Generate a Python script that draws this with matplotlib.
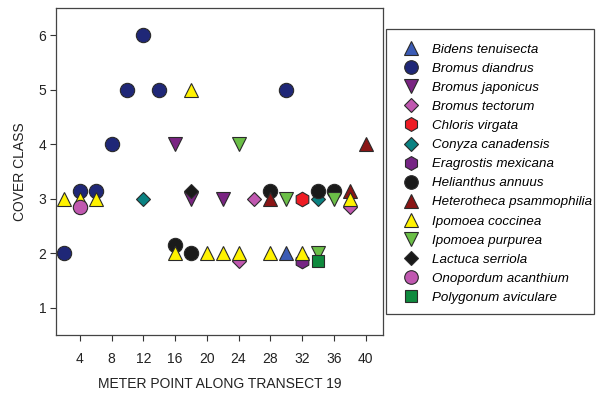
import matplotlib
matplotlib.use("Agg")
import matplotlib.pyplot as plt
from matplotlib.lines import Line2D
from matplotlib.patches import Rectangle

plt.rcParams['font.family'] = ['Liberation Sans', 'DejaVu Sans']

species = ["Bidens tenuisecta", "Bromus diandrus", "Bromus japonicus", "Bromus tectorum",
           "Chloris virgata", "Conyza canadensis", "Eragrostis mexicana", "Helianthus annuus",
           "Heterotheca psammophilia", "Ipomoea coccinea", "Ipomoea purpurea",
           "Lactuca serriola", "Onopordum acanthium", "Polygonum aviculare"]

bidens_x = [30]
bidens_y = [2]
diandrus_x = [2, 4, 6, 8, 10, 12, 14, 30]
diandrus_y = [2, 3.15, 3.15, 4, 5, 6, 5, 5]
japonicus_x = [16, 18, 22]
japonicus_y = [4, 3, 3]
tectorum_x = [24, 26, 38]
tectorum_y = [1.85, 3, 2.85]
chloris_x = [32]
chloris_y = [3]
conyza_x = [12, 34]
conyza_y = [3, 3]
eragrostis_x = [32]
eragrostis_y = [1.85]
helianthus_x = [16, 18, 28, 34, 36]
helianthus_y = [2.15, 2, 3.15, 3.15, 3.15]
heterotheca_x = [28, 38, 40]
heterotheca_y = [3, 3.15, 4]
coccinea_x = [2, 4, 6, 16, 18, 20, 22, 24, 28, 32, 38]
coccinea_y = [3, 3, 3, 2, 5, 2, 2, 2, 2, 2, 3]
purpurea_x = [24, 30, 36, 34]
purpurea_y = [4, 3, 3, 2]
lactuca_x = [18]
lactuca_y = [3.15]
onopordum_x = [4]
onopordum_y = [2.85]
polygonum_x = [34]
polygonum_y = [1.85]

xs = [bidens_x, diandrus_x, japonicus_x, tectorum_x, chloris_x, conyza_x, eragrostis_x,
      helianthus_x, heterotheca_x, coccinea_x, purpurea_x, lactuca_x, onopordum_x, polygonum_x]
ys = [bidens_y, diandrus_y, japonicus_y, tectorum_y, chloris_y, conyza_y, eragrostis_y,
      helianthus_y, heterotheca_y, coccinea_y, purpurea_y, lactuca_y, onopordum_y, polygonum_y]

markers = ['^', 'o', 'v', 'D', 'h', 'D', 'h', 'o', '^', '^', 'v', 'D', 'o', 's']
colors = ['#3b5bb5', '#1f2777', '#7a2482', '#c058b0', '#ee1c24', '#0a8282', '#762584',
          '#1a1a1a', '#8a1515', '#fff200', '#6bbf47', '#1a1a1a', '#c058b0', '#0f8a3e']
sizes = {'^': 10.5, 'o': 10.3, 'v': 10.5, 'D': 7.2, 'h': 10.5, 's': 8.7}

fig = plt.figure(figsize=(5.97, 3.98), dpi=100)
ax = fig.add_axes([56/597, 1-335/398, (383-56)/597, (335-8)/398])

handles = []
for name, x, y, m, c in zip(species, xs, ys, markers, colors):
    ax.plot(x, y, linestyle='none', marker=m, markersize=sizes[m], markerfacecolor=c,
            markeredgecolor='#2a2a2a', markeredgewidth=0.8, clip_on=False)
    handles.append(Line2D([], [], linestyle='none', marker=m, markersize=sizes[m] * 0.95,
                          markerfacecolor=c, markeredgecolor='#2a2a2a', markeredgewidth=0.8,
                          label=name))

ax.set_xlim(1, 42.2)
ax.set_ylim(0.5, 6.5)
ax.set_xticks([4, 8, 12, 16, 20, 24, 28, 32, 36, 40])
ax.set_yticks([1, 2, 3, 4, 5, 6])
ax.tick_params(direction='out', length=4, width=0.8, colors='#333333', labelsize=10,
               labelcolor='#222222', pad=8)
ax.tick_params(axis='y', pad=3)
for s in ax.spines.values():
    s.set_color('#444444')
    s.set_linewidth(0.9)
ax.set_xlabel("METER POINT ALONG TRANSECT 19", fontsize=10, color='#222222', labelpad=8)
ax.set_ylabel("COVER CLASS", fontsize=10, color='#222222', labelpad=8)

leg = fig.legend(handles=handles, loc='upper left', bbox_to_anchor=(386/597, 1-32/398),
                 prop={'style': 'italic', 'size': 9.65}, frameon=False,
                 borderpad=0.85, labelspacing=0.5, handlelength=2.03,
                 handletextpad=0.55, borderaxespad=0)
fig.patches.append(Rectangle((386/597, 1-314/398), 208/597, 285/398, transform=fig.transFigure,
                             fill=False, edgecolor='#444444', linewidth=0.9))

fig.savefig("out.png", dpi=100)
